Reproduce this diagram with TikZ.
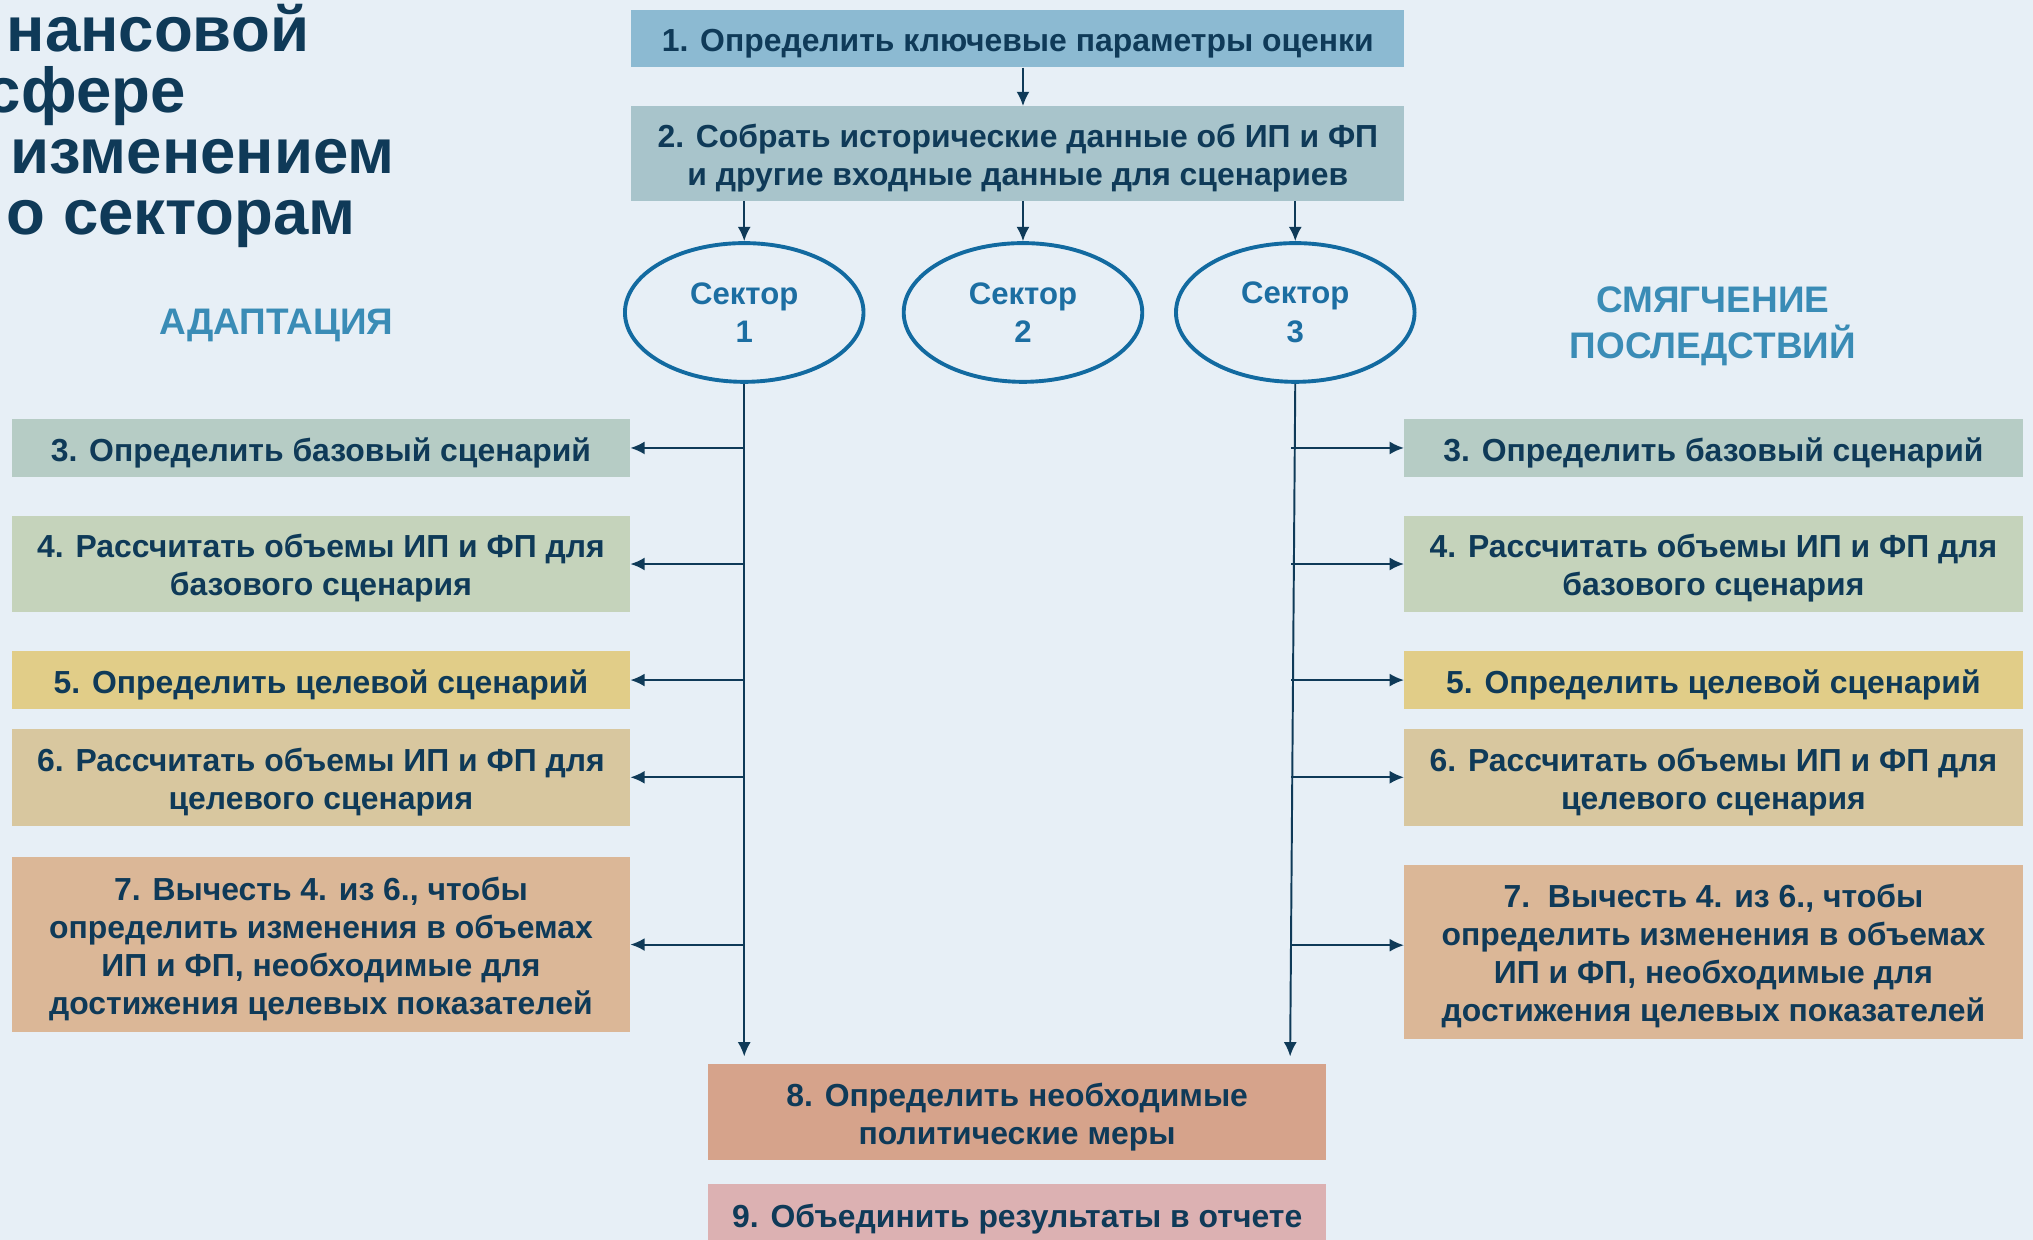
\documentclass[tikz,border=0pt]{standalone}
\usepackage{fontspec}
\setmainfont{Liberation Sans}
\usetikzlibrary{arrows.meta,shapes.geometric}
\definecolor{bgc}{HTML}{E7EFF6}
\definecolor{navy}{HTML}{0F3A58}
\definecolor{ellc}{HTML}{126AA0}
\definecolor{ellt}{HTML}{1C6EA2}
\definecolor{lblc}{HTML}{3A8CB6}
\definecolor{cA}{HTML}{8CBAD2}
\definecolor{cB}{HTML}{A8C4CB}
\definecolor{cC}{HTML}{B6CCC5}
\definecolor{cD}{HTML}{C5D3BB}
\definecolor{cE}{HTML}{E1CD88}
\definecolor{cF}{HTML}{D8C79F}
\definecolor{cG}{HTML}{DBB797}
\definecolor{cH}{HTML}{D6A38B}
\definecolor{cI}{HTML}{DCB1B2}
\tikzset{
  boxfill/.style={rectangle, inner sep=0pt, draw=none},
  boxtext/.style={inner sep=0pt, text=navy, align=center,
    font=\bfseries\fontsize{24.6}{29.4}\selectfont},
  sector/.style={ellipse, draw=ellc, line width=3pt, minimum width=184pt, minimum height=107pt,
    inner sep=0pt, text=ellt, align=center, font=\bfseries\fontsize{24}{29}\selectfont},
  arr/.style={draw=navy, line width=1.5pt, -{Latex[length=11pt,width=10pt]}},
  ttl/.style={anchor=base west, inner sep=0pt, text=navy, font=\bfseries\fontsize{49}{47}\selectfont},
  lbl/.style={text=lblc, align=center, inner sep=0pt, font=\bfseries\fontsize{28.5}{35}\selectfont},
}
% name, x, y, width, height, colour, text
\newcommand\stepat[7]{%
  \node[boxfill, fill=#6, minimum width=#4pt, minimum height=#5pt] (#1) at (#2,#3) {};
  \node[boxtext] (#1t) at ([yshift=-3.5pt]#1.center) {#7};}
\begin{document}
\begin{tikzpicture}[x=1pt,y=-1pt]
\fill[bgc] (0,0) rectangle (1568,956);
\clip (0,0) rectangle (1568,956);
% title (cropped at the left edge, as in the original)
\node[ttl] (t1) at (5,40) {нансовой};
\node[ttl] (t2) at (-11,87) {сфере};
\node[ttl] (t3) at (8,134) {изменением};
\node[ttl] (t4) at (5,181) {о секторам};
% labels
\node[lbl] (ad) at (213,251) {АДАПТАЦИЯ};
\node[lbl] (sm) at (1321,251.5) {СМЯГЧЕНИЕ\\ПОСЛЕДСТВИЙ};
% top boxes
\stepat{B1}{785}{30}{596}{44}{cA}{1. Определить ключевые параметры оценки}
\stepat{B2}{785}{118.5}{596}{73}{cB}{2. Собрать исторические данные об ИП и ФП\\и другие входные данные для сценариев}
% sectors
\node[sector] (s1) at (574,241) {\raisebox{-3pt}{\shortstack{Сектор\\[5pt]1}}};
\node[sector] (s2) at (789,241) {\raisebox{-3pt}{\shortstack{Сектор\\[5pt]2}}};
\node[sector] (s3) at (999,241) {\raisebox{-3pt}{\shortstack{Сектор\\[5pt]3}}};
% left column
\stepat{L3}{247.5}{345.5}{477}{45}{cC}{3. Определить базовый сценарий}
\stepat{L4}{247.5}{435}{477}{74}{cD}{4. Рассчитать объемы ИП и ФП для\\базового сценария}
\stepat{L5}{247.5}{524.5}{477}{45}{cE}{5. Определить целевой сценарий}
\stepat{L6}{247.5}{599.5}{477}{75}{cF}{6. Рассчитать объемы ИП и ФП для\\целевого сценария}
\stepat{L7}{247.5}{728.5}{477}{135}{cG}{7. Вычесть 4. из 6., чтобы\\определить изменения в объемах\\ИП и ФП, необходимые для\\достижения целевых показателей}
% right column
\stepat{R3}{1321.5}{345.5}{477}{45}{cC}{3. Определить базовый сценарий}
\stepat{R4}{1321.5}{435}{477}{74}{cD}{4. Рассчитать объемы ИП и ФП для\\базового сценария}
\stepat{R5}{1321.5}{524.5}{477}{45}{cE}{5. Определить целевой сценарий}
\stepat{R6}{1321.5}{599.5}{477}{75}{cF}{6. Рассчитать объемы ИП и ФП для\\целевого сценария}
\stepat{R7}{1321.5}{734}{477}{134}{cG}{7.\ \ Вычесть 4. из 6., чтобы\\определить изменения в объемах\\ИП и ФП, необходимые для\\достижения целевых показателей}
% bottom boxes
\stepat{B8}{784.5}{858}{477}{74}{cH}{8. Определить необходимые\\политические меры}
\stepat{B9}{784.5}{937}{477}{48}{cI}{9. Объединить результаты в отчете}
% connectors
\draw[arr] (s2.north |- B1.south) -- (s2.north |- B2.north);
\draw[arr] (s1.north |- B2.south) -- (s1.north);
\draw[arr] (s2.north |- B2.south) -- (s2.north);
\draw[arr] (s3.north |- B2.south) -- (s3.north);
\draw[arr, shorten >=6pt] (s1.south) -- (s1.south |- B8.north);
\draw[arr, shorten >=6pt] (s3.south) -- ([xshift=-4pt]s3.south |- B8.north);
\foreach \b in {L3,L4,L5,L6,L7} \draw[arr] (\b.east -| s1.south) -- (\b.east);
\foreach \b in {R3,R4,R5,R6} \draw[arr] ([xshift=-3pt]\b.west -| s3.south) -- (\b.west);
\draw[arr] ([xshift=-3pt,yshift=5pt]R7.west -| s3.south) -- ([yshift=5pt]R7.west);
\end{tikzpicture}
\end{document}
